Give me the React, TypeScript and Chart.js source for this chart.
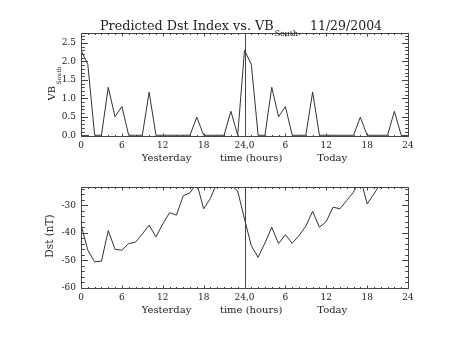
import { useEffect, useRef } from 'react';
import { Chart, registerables } from 'chart.js';

Chart.register(...registerables);

// ---- data ----
const hours = [0, 1, 2, 3, 4, 5, 6, 7, 8, 9, 10, 11, 12, 13, 14, 15, 16, 17, 18, 19, 20, 21, 22, 23,
  24, 25, 26, 27, 28, 29, 30, 31, 32, 33, 34, 35, 36, 37, 38, 39, 40, 41, 42, 43, 44, 45, 46, 47];
const vbSouth = [2.3, 1.92, 0, 0, 1.3, 0.5, 0.78, 0, 0, 0, 1.17, 0, 0, 0, 0, 0, 0, 0.49, 0, 0, 0, 0, 0.65, 0,
  2.3, 1.92, 0, 0, 1.3, 0.5, 0.78, 0, 0, 0, 1.17, 0, 0, 0, 0, 0, 0, 0.49, 0, 0, 0, 0, 0.65, 0];
const dst = [-37, -46.3, -50.5, -50.3, -39.2, -46, -46.3, -43.9, -43.4, -40.4, -37.2, -41.5,
  -36.8, -32.7, -33.6, -26.6, -25.5, -22, -31.3, -27.5, -21.5, -20.5, -22.6, -24.9,
  -35, -44.7, -48.9, -43.7, -38, -43.9, -40.7, -43.8, -41, -37.6, -32.2, -38,
  -35.9, -30.7, -31.3, -28.3, -25.3, -20, -29.5, -25.9, -22, -21, -20.5, -20];

const xMajorTicks = [0, 6, 12, 18, 24, 30, 36, 42, 48];
const xTickLabels = ['0', '6', '12', '18', '24,0', '6', '12', '18', '24'];
const vbTicks = [0, 0.5, 1, 1.5, 2, 2.5];
const vbTickLabels = ['0.0', '0.5', '1.0', '1.5', '2.0', '2.5'];
const dstTicks = [-60, -50, -40, -30];
const dstTickLabels = ['-60', '-50', '-40', '-30'];

const titleMain = 'Predicted Dst Index vs. VB';
const titleSub = 'South';
const titleDate = '11/29/2004';
const xTitle = 'Yesterday         time (hours)           Today';
const vbTitleMain = 'VB';
const vbTitleSub = 'South';
const dstTitle = 'Dst (nT)';
const dayBoundary = 24;

// ---- style ----
const FONT = '"DejaVu Serif", serif';
const INK = '#222';
const AXIS = '#444';
const LINE = '#333';
const W = 453;
const H = 170;

function vbYTitle(ctx: CanvasRenderingContext2D, area: any) {
  const cy = (area.top + area.bottom) / 2 - 1;
  ctx.save();
  ctx.translate(55, cy);
  ctx.rotate(-Math.PI / 2);
  ctx.fillStyle = INK;
  ctx.textBaseline = 'alphabetic';
  ctx.textAlign = 'left';
  ctx.font = `10px ${FONT}`;
  const w1 = ctx.measureText(vbTitleMain).width;
  ctx.font = `6px ${FONT}`;
  const w2 = ctx.measureText(vbTitleSub).width;
  const total = w1 + 1.5 + w2;
  ctx.font = `10px ${FONT}`;
  ctx.fillText(vbTitleMain, -total / 2, 0);
  ctx.font = `6px ${FONT}`;
  ctx.fillText(vbTitleSub, -total / 2 + w1 + 1.5, 5.5);
  ctx.restore();
}

function dstYTitle(ctx: CanvasRenderingContext2D, area: any) {
  const cy = (area.top + area.bottom) / 2 - 1.5;
  ctx.save();
  ctx.translate(52.5, cy);
  ctx.rotate(-Math.PI / 2);
  ctx.fillStyle = INK;
  ctx.textBaseline = 'alphabetic';
  ctx.textAlign = 'center';
  ctx.font = `10.5px ${FONT}`;
  ctx.fillText(dstTitle, 0, 0);
  ctx.restore();
}

function makeFramePlugin(yMinorStep: number, drawTitle: boolean, yTitleKind: 'vb' | 'dst') {
  return {
    id: 'idlFrame',
    afterDraw(chart: any) {
      const { ctx, chartArea } = chart;
      const { left, right, top, bottom } = chartArea;
      const xs = chart.scales.x;
      const ys = chart.scales.y;
      const L = Math.round(left) + 0.5;
      const R = Math.round(right) + 0.5;
      const T = Math.round(top) + 0.5;
      const B = Math.round(bottom) + 0.5;
      ctx.save();
      ctx.strokeStyle = AXIS;
      ctx.lineWidth = 1;
      ctx.beginPath();
      ctx.rect(L, T, R - L, B - T);
      const vx = Math.round(xs.getPixelForValue(dayBoundary)) + 0.5;
      ctx.moveTo(vx, T);
      ctx.lineTo(vx, B);
      for (let h = xs.min; h <= xs.max; h += 1) {
        const px = Math.round(xs.getPixelForValue(h)) + 0.5;
        const len = xMajorTicks.includes(h) ? 3 : 1.5;
        ctx.moveTo(px, B);
        ctx.lineTo(px, B - len);
        ctx.moveTo(px, T);
        ctx.lineTo(px, T + len);
      }
      const majors: number[] = ys.ticks.map((t: any) => t.value);
      const step = yMinorStep;
      for (let k = Math.ceil(ys.min / step - 1e-6); k * step <= ys.max + 1e-9; k++) {
        const v = k * step;
        const isMajor = majors.some((m) => Math.abs(m - v) < 1e-6);
        const py = Math.round(ys.getPixelForValue(v)) + 0.5;
        const len = isMajor ? 6.5 : 3.3;
        ctx.moveTo(L, py);
        ctx.lineTo(L + len, py);
        ctx.moveTo(R, py);
        ctx.lineTo(R - len, py);
      }
      ctx.stroke();

      ctx.fillStyle = INK;
      ctx.font = `10px ${FONT}`;
      ctx.textAlign = 'center';
      ctx.textBaseline = 'middle';
      ctx.fillText(xTitle, (left + right) / 2, bottom + 22.5);

      if (drawTitle) {
        const cx = (left + right) / 2;
        ctx.textAlign = 'left';
        ctx.textBaseline = 'alphabetic';
        ctx.font = `12.8px ${FONT}`;
        const x0 = cx - 144.5;
        ctx.fillText(titleMain, x0, 29.5);
        const w = ctx.measureText(titleMain).width;
        ctx.font = `7.8px ${FONT}`;
        ctx.fillText(titleSub, x0 + w + 1, 35.5);
        ctx.font = `12.5px ${FONT}`;
        ctx.fillText(titleDate, cx + 65.5, 29.5);
      }
      if (yTitleKind === 'vb') vbYTitle(ctx, chartArea);
      else dstYTitle(ctx, chartArea);
      ctx.restore();
    },
  };
}

function buildChart(
  canvas: HTMLCanvasElement,
  values: number[],
  yMin: number,
  yMax: number,
  yTicks: number[],
  yLabels: string[],
  yMinorStep: number,
  padTop: number,
  areaBottom: number,
  drawTitle: boolean,
  yTitleKind: 'vb' | 'dst',
) {
  return new Chart(canvas, {
    type: 'line',
    data: {
      datasets: [
        {
          data: hours.map((h, i) => ({ x: h, y: values[i] })),
          borderColor: LINE,
          borderWidth: 1,
          pointRadius: 0,
          tension: 0,
          fill: false,
        },
      ],
    },
    options: {
      animation: false,
      responsive: false,
      events: [],
      layout: { padding: { top: padTop, right: W - 408, left: 0, bottom: 0 } },
      plugins: {
        legend: { display: false },
        title: { display: false },
        tooltip: { enabled: false },
      },
      scales: {
        x: {
          type: 'linear',
          min: 0,
          max: 48,
          grid: { display: false, drawTicks: false },
          border: { display: false },
          afterBuildTicks: (s: any) => {
            s.ticks = xMajorTicks.map((v) => ({ value: v }));
          },
          afterFit: (s: any) => {
            s.height = H - areaBottom;
          },
          ticks: {
            autoSkip: false,
            maxRotation: 0,
            padding: 4,
            color: INK,
            font: { family: FONT, size: 9 },
            callback: (v: any) => xTickLabels[xMajorTicks.indexOf(Number(v))] ?? '',
          },
        },
        y: {
          type: 'linear',
          min: yMin,
          max: yMax,
          grid: { display: false, drawTicks: false },
          border: { display: false },
          afterBuildTicks: (s: any) => {
            s.ticks = yTicks.map((v) => ({ value: v }));
          },
          afterFit: (s: any) => {
            s.width = 81;
          },
          ticks: {
            autoSkip: false,
            padding: 5,
            color: INK,
            font: { family: FONT, size: 9 },
            callback: (v: any) => yLabels[yTicks.findIndex((t) => Math.abs(t - Number(v)) < 1e-9)] ?? '',
          },
        },
      },
    },
    plugins: [makeFramePlugin(yMinorStep, drawTitle, yTitleKind)],
  } as any);
}

export default function App() {
  const topRef = useRef<HTMLCanvasElement>(null);
  const botRef = useRef<HTMLCanvasElement>(null);

  useEffect(() => {
    const c1 = buildChart(topRef.current!, vbSouth, -0.02, 2.77, vbTicks, vbTickLabels, 0.1, 33, 136, true, 'vb');
    const c2 = buildChart(botRef.current!, dst, -60, -23.4, dstTicks, dstTickLabels, 2, 17, 118, false, 'dst');
    return () => {
      c1.destroy();
      c2.destroy();
    };
  }, []);

  return (
    <div style={{ position: 'absolute', left: 0, top: 0, width: W, height: 2 * H, background: '#fff' }}>
      <canvas ref={topRef} width={W} height={H} style={{ display: 'block', width: W, height: H }} />
      <canvas ref={botRef} width={W} height={H} style={{ display: 'block', width: W, height: H }} />
    </div>
  );
}
